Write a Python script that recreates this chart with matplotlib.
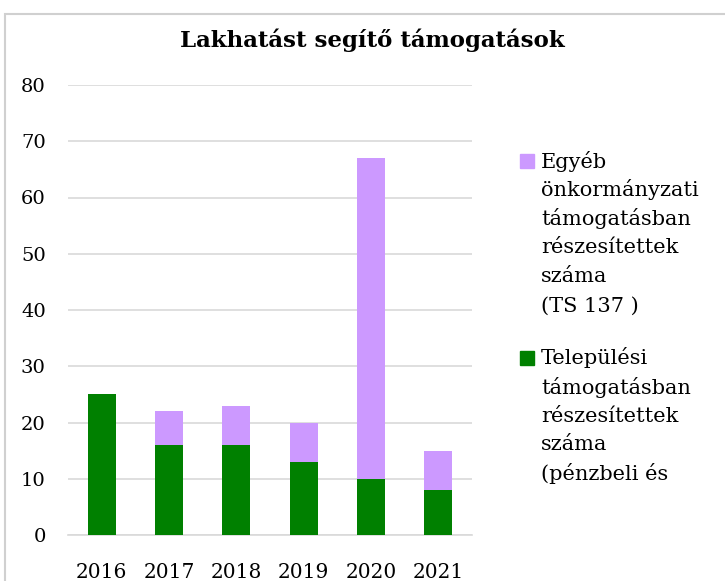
import matplotlib.pyplot as plt
from matplotlib.patches import Rectangle

# adatok
evek = ['2016', '2017', '2018', '2019', '2020', '2021']
telepulesi = [25, 16, 16, 13, 10, 8]
egyeb = [0, 6, 7, 7, 57, 7]

zold = '#008000'
lila = '#CC99FF'
racs = '#D9D9D9'

plt.rcParams['font.family'] = ['DejaVu Serif']

W, H = 725, 581
fig = plt.figure(figsize=(W / 100, H / 100), dpi=100)

# keret
fig.patches.append(Rectangle((5 / W, -0.1), 1.2, 1 - 14 / H + 0.1,
                             transform=fig.transFigure, fill=False,
                             edgecolor='#D0D0D0', linewidth=1.5))

ax = fig.add_axes([68 / W, 1 - 535 / H, (472 - 68) / W, (535 - 85) / H])
x = range(len(evek))
ax.bar(x, telepulesi, width=0.42, color=zold, zorder=3)
ax.bar(x, egyeb, width=0.42, bottom=telepulesi, color=lila, zorder=3)

ax.set_xlim(-0.5, len(evek) - 0.5)
ax.set_ylim(0, 80)
ax.set_yticks(range(0, 81, 10))
ax.set_xticks(list(x))
ax.set_xticklabels(evek)
ax.grid(axis='y', color=racs, linewidth=1.2, zorder=0)
for s in ['top', 'right', 'left']:
    ax.spines[s].set_visible(False)
ax.spines['bottom'].set_color(racs)
ax.spines['bottom'].set_linewidth(1.2)
ax.tick_params(axis='y', length=0, pad=16, labelsize=14)
ax.tick_params(axis='x', length=0, pad=20, labelsize=14.5)

fig.text(372 / W, 1 - 40 / H, 'Lakhatást segítő támogatások',
         ha='center', va='center', fontsize=16.5, fontweight='bold')

# jelmagyarázat
sorok1 = ['Egyéb', 'önkormányzati', 'támogatásban', 'részesítettek', 'száma', '(TS 137 )']
sorok2 = ['Települési', 'támogatásban', 'részesítettek', 'száma', '(pénzbeli és']
for szin, sorok, y0 in [(lila, sorok1, 161), (zold, sorok2, 358)]:
    fig.patches.append(Rectangle((520 / W, 1 - (y0 + 7) / H), 14 / W, 14 / H,
                                 transform=fig.transFigure, color=szin))
    for i, s in enumerate(sorok):
        fig.text(541 / W, 1 - (y0 + i * 29) / H, s, ha='left', va='center',
                 fontsize=15)

fig.savefig('out.png', dpi=100)
